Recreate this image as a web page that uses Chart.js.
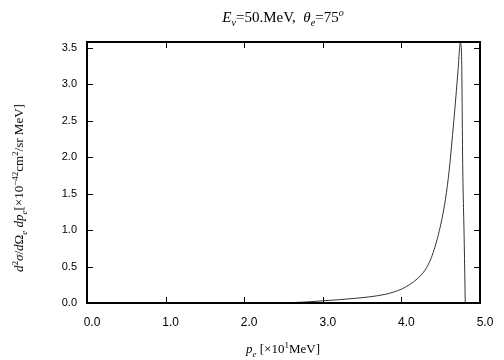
<!DOCTYPE html>
<html>
<head>
<meta charset="utf-8">
<script src="https://cdn.jsdelivr.net/npm/chart.js@4.4.0/dist/chart.umd.min.js"></script>
<style>
  html, body { margin: 0; padding: 0; background: #fff; }
  #wrap { position: relative; width: 504px; height: 360px; }
  .lbl { position: absolute; font-family: "Liberation Serif", "Times New Roman", serif; font-size: 13px; color: #000; white-space: nowrap; }
  .lbl i { font-style: italic; }
  .lbl sub, .lbl sup { font-size: 9px; line-height: 0; }
  #title { left: 0; width: 566px; top: 9px; text-align: center; font-size: 15px; }
  #title sub, #title sup { font-size: 10px; }
  #xlab { left: 0; width: 566px; top: 341px; text-align: center; }
  #ylab { left: 19px; top: 188px; transform: translate(-50%, -50%) rotate(-90deg); }
</style>
</head>
<body>
<div id="wrap">
  <canvas id="c" width="504" height="360"></canvas>
  <div class="lbl" id="title"><i>E</i><sub><i>ν</i></sub>=50.MeV, &nbsp;<i>θ</i><sub><i>e</i></sub>=75<sup><i>o</i></sup></div>
  <div class="lbl" id="xlab"><i>p</i><sub><i>e</i></sub> [×10<sup>1</sup>MeV]</div>
  <div class="lbl" id="ylab"><i>d</i><sup>2</sup><i>σ</i>/<i>d</i>Ω<sub><i>e</i></sub> <i>dp</i><sub><i>e</i></sub>[×10<sup>−42</sup>cm<sup>2</sup>/sr MeV]</div>
</div>
<script>
// 电子动量 p_e (x10 MeV) 与双微分截面
const pe = [2.5, 2.8, 3.0, 3.2, 3.4, 3.6, 3.8, 3.9, 4.0, 4.1, 4.2, 4.3, 4.38, 4.48, 4.56, 4.61, 4.65, 4.68, 4.72, 4.75, 4.765, 4.78, 4.80, 4.812];
const xsec = [0.0, 0.015, 0.03, 0.045, 0.063, 0.085, 0.12, 0.15, 0.19, 0.25, 0.33, 0.45, 0.62, 0.98, 1.42, 1.84, 2.3, 2.66, 3.18, 3.57, 3.42, 1.9, 0.8, 0.0];
const xTicks = [0, 1, 2, 3, 4, 5];
const yTicks = [0, 0.5, 1, 1.5, 2, 2.5, 3, 3.5];

const points = pe.map((x, i) => ({ x: x, y: xsec[i] }));

// gnuplot 风格：四周边框 + 向内的刻度
const framePlugin = {
  id: 'frame',
  afterDraw(chart) {
    const { ctx, chartArea: a, scales } = chart;
    ctx.save();
    ctx.strokeStyle = '#000';
    ctx.lineWidth = 1;
    xTicks.forEach(v => {
      const px = Math.round(scales.x.getPixelForValue(v)) + 0.5;
      ctx.beginPath();
      ctx.moveTo(px, a.bottom); ctx.lineTo(px, a.bottom - 6);
      ctx.moveTo(px, a.top); ctx.lineTo(px, a.top + 6);
      ctx.stroke();
    });
    yTicks.forEach(v => {
      const py = Math.round(scales.y.getPixelForValue(v)) + 0.5;
      ctx.beginPath();
      ctx.moveTo(a.left, py); ctx.lineTo(a.left + 6, py);
      ctx.moveTo(a.right, py); ctx.lineTo(a.right - 6, py);
      ctx.stroke();
    });
    ctx.lineWidth = 2;
    ctx.strokeRect(a.left, a.top, a.right - a.left, a.bottom - a.top);
    ctx.restore();
  }
};

new Chart(document.getElementById('c'), {
  type: 'line',
  data: {
    datasets: [{
      data: points,
      borderColor: '#333',
      borderWidth: 1,
      pointRadius: 0,
      fill: false,
      cubicInterpolationMode: 'monotone'
    }]
  },
  options: {
    responsive: false,
    animation: false,
    layout: { padding: { top: 42, right: 24, left: 0, bottom: 0 } },
    scales: {
      x: {
        type: 'linear',
        min: 0, max: 5,
        afterBuildTicks: s => { s.ticks = xTicks.map(v => ({ value: v })); },
        afterFit: s => { s.height = 57; },
        grid: { display: false, drawTicks: false },
        border: { display: false },
        ticks: {
          font: { family: 'Liberation Sans', size: 12 },
          color: '#000',
          padding: 12,
          labelOffset: 5,
          callback: v => v.toFixed(1)
        }
      },
      y: {
        min: 0, max: 3.58,
        afterBuildTicks: s => { s.ticks = yTicks.map(v => ({ value: v })); },
        afterFit: s => { s.width = 87; },
        grid: { display: false, drawTicks: false },
        border: { display: false },
        ticks: {
          font: { family: 'Liberation Sans', size: 11 },
          color: '#000',
          padding: 10,
          callback: v => v.toFixed(1)
        }
      }
    },
    plugins: { legend: { display: false }, tooltip: { enabled: false } }
  },
  plugins: [framePlugin]
});
</script>
</body>
</html>
